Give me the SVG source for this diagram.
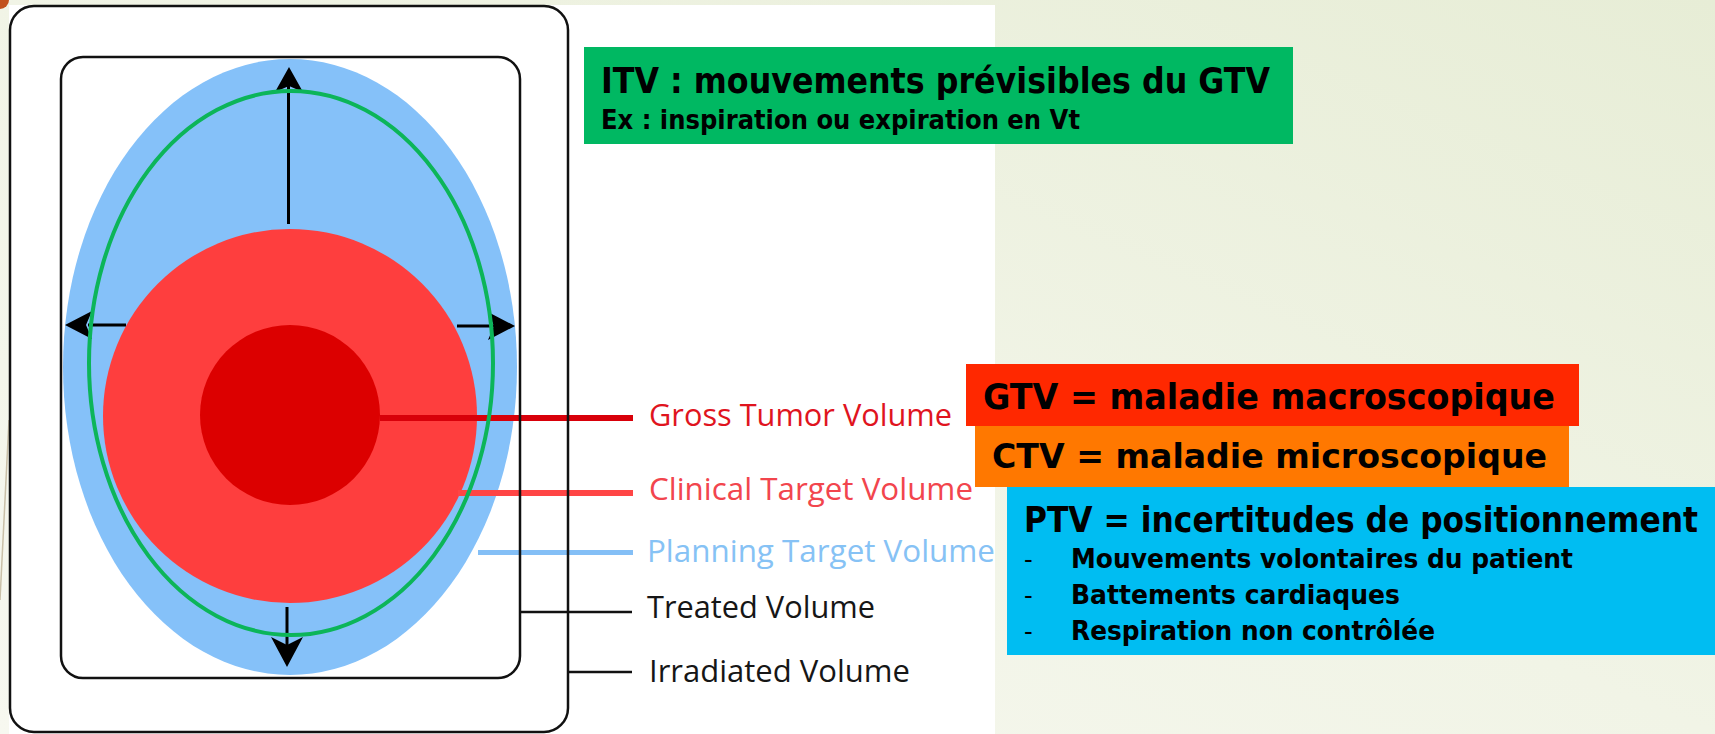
<svg xmlns="http://www.w3.org/2000/svg" width="1715" height="734" viewBox="0 0 1715 734">
  <defs>
    <linearGradient id="bg" x1="0" y1="1" x2="1" y2="0">
      <stop offset="0" stop-color="#f7f8f0"/>
      <stop offset="0.5" stop-color="#f1f4e6"/>
      <stop offset="1" stop-color="#e7edd6"/>
    </linearGradient>
    <style>
      .frame{fill:none;stroke:#111;stroke-width:2.5}
      .lead{stroke-linecap:butt;fill:none}
      .arr{stroke:#000;stroke-width:3;fill:none}
      .head{fill:#000}
      .lbl{font-family:"Open Sans","Noto Sans",sans-serif;font-size:31px}
      .box{font-family:"DejaVu Sans","Liberation Sans",sans-serif;font-weight:bold;fill:#000}
      .dash{font-family:"Liberation Sans",sans-serif;font-size:26px;fill:#000}
    </style>
  </defs>

  <rect x="0" y="0" width="1715" height="734" fill="url(#bg)"/>
  <path d="M0,0 H9 A9,9 0 0 1 0,9 Z" fill="#c2521e"/>
  <line x1="9" y1="420" x2="0" y2="600" stroke="#c9c0a8" stroke-width="1.5"/>
  <rect x="9" y="5" width="986" height="729" fill="#ffffff"/>

  <g id="volumes">
    <ellipse id="ptv-shape" cx="290" cy="367" rx="227" ry="308" fill="#85c1f9"/>
    <circle id="ctv-shape" cx="290" cy="416" r="187" fill="#fe3e3e"/>
    <circle id="gtv-shape" cx="290" cy="415" r="90" fill="#dc0000"/>
  </g>

  <g id="connectors">
    <line class="lead" x1="380" y1="418" x2="633" y2="418" stroke="#d8000a" stroke-width="6"/>
    <line class="lead" x1="458" y1="493" x2="633" y2="493" stroke="#ff4545" stroke-width="6"/>
    <line class="lead" x1="478" y1="552.5" x2="633" y2="552.5" stroke="#84bff6" stroke-width="5"/>
    <line class="lead" x1="520" y1="612" x2="632" y2="612" stroke="#111" stroke-width="2.5"/>
    <line class="lead" x1="568" y1="672" x2="632" y2="672" stroke="#111" stroke-width="2.5"/>
    <line class="arr" x1="288.5" y1="86" x2="288.5" y2="224"/>
    <path class="head" d="M289,67 L303,92 L289,86 L275,92 Z"/>
    <line class="arr" x1="88" y1="325" x2="126" y2="325"/>
    <path class="head" d="M65,325 L92,311 L86,325 L92,339 Z"/>
    <line class="arr" x1="457" y1="326" x2="494" y2="326"/>
    <path class="head" d="M515,326 L488,312 L494,326 L488,340 Z"/>
    <line class="arr" x1="287" y1="607" x2="287" y2="646"/>
    <path class="head" d="M287,667 L271,637 L287,645 L303,637 Z"/>
  </g>

  <g id="itv-shape">
    <ellipse cx="291" cy="363" rx="202" ry="272" fill="none" stroke="#0cb559" stroke-width="4"/>
  </g>

  <g id="frames">
    <rect id="irradiated-frame" class="frame" x="10" y="6" width="558" height="726" rx="24"/>
    <rect id="treated-frame" class="frame" x="61" y="57" width="459" height="621" rx="22"/>
  </g>

  <g id="labels">
    <text class="lbl" x="649" y="426" fill="#e0141e" textLength="303" lengthAdjust="spacingAndGlyphs">Gross Tumor Volume</text>
    <text class="lbl" x="649" y="500" fill="#f2454d" textLength="324" lengthAdjust="spacingAndGlyphs">Clinical Target Volume</text>
    <text class="lbl" x="647" y="562" fill="#86c2f5" textLength="348" lengthAdjust="spacingAndGlyphs">Planning Target Volume</text>
    <text class="lbl" x="647" y="618" fill="#161616" textLength="228" lengthAdjust="spacingAndGlyphs">Treated Volume</text>
    <text class="lbl" x="649" y="682" fill="#161616" textLength="261" lengthAdjust="spacingAndGlyphs">Irradiated Volume</text>
  </g>

  <g id="itv-box">
    <rect x="584" y="47" width="709" height="97" fill="#00b862"/>
    <text class="box" x="601" y="93" font-size="35" textLength="669" lengthAdjust="spacingAndGlyphs">ITV : mouvements prévisibles du GTV</text>
    <text class="box" x="601" y="129" font-size="27" textLength="479" lengthAdjust="spacingAndGlyphs">Ex : inspiration ou expiration en Vt</text>
  </g>

  <g id="ptv-box">
    <rect x="1007" y="487" width="708" height="168" fill="#00bdf2"/>
    <text class="box" x="1024" y="532" font-size="35" textLength="674" lengthAdjust="spacingAndGlyphs">PTV = incertitudes de positionnement</text>
    <text class="dash" x="1024" y="568">-</text>
    <text class="box" x="1071" y="568" font-size="27" textLength="502" lengthAdjust="spacingAndGlyphs">Mouvements volontaires du patient</text>
    <text class="dash" x="1024" y="604">-</text>
    <text class="box" x="1071" y="604" font-size="27" textLength="329" lengthAdjust="spacingAndGlyphs">Battements cardiaques</text>
    <text class="dash" x="1024" y="640">-</text>
    <text class="box" x="1071" y="640" font-size="27" textLength="364" lengthAdjust="spacingAndGlyphs">Respiration non contrôlée</text>
  </g>

  <g id="ctv-box">
    <rect x="975" y="426" width="594" height="61" fill="#ff7800"/>
    <text class="box" x="992" y="468" font-size="34" textLength="555" lengthAdjust="spacingAndGlyphs">CTV = maladie microscopique</text>
  </g>

  <g id="gtv-box">
    <rect x="966" y="364" width="613" height="62" fill="#ff2800"/>
    <text class="box" x="983" y="409" font-size="36" textLength="572" lengthAdjust="spacingAndGlyphs">GTV = maladie macroscopique</text>
  </g>
</svg>
